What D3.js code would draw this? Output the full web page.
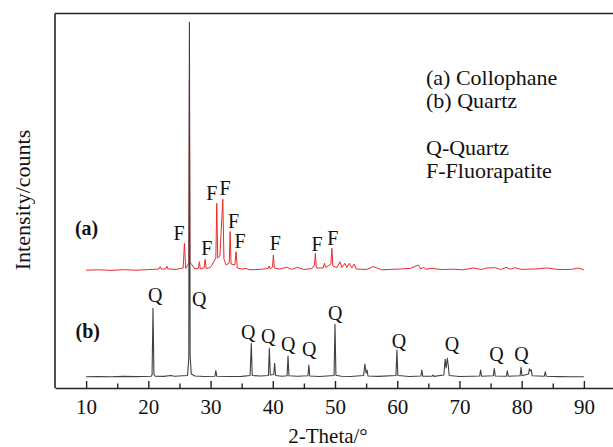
<!DOCTYPE html>
<html>
<head>
<meta charset="utf-8">
<script src="https://cdn.jsdelivr.net/npm/d3@7"></script>
<style>
  html, body { margin: 0; padding: 0; background: #fff; }
  svg { display: block; }
  text { font-family: "Liberation Serif", "Times New Roman", serif; fill: #111; }
</style>
</head>
<body>
<svg id="chart" width="613" height="447"></svg>
<script>
// ---------- data ----------
// (a) Collophane pattern (stacked, counts incl. offset)
const aTheta = [10, 12, 14, 16, 18, 20, 21.7, 21.9, 22.1, 22.8, 22.97, 23.15, 24.5, 25.6, 25.8, 26.0, 26.52, 26.6, 26.68, 27.5,
  28.05, 28.2, 28.35, 28.95, 29.13, 29.3, 30.0, 30.85, 31.0, 31.15, 31.5, 31.97, 32.15, 32.5, 33.0, 33.15, 33.3, 33.9, 34.1, 34.3,
  35.0, 35.7, 36.2, 38.0, 39.25, 39.4, 39.6, 39.95, 40.1, 40.25, 41.0, 42.25, 43.0, 43.97, 45.0, 46.3, 46.7, 46.85, 47.0, 48.1,
  48.3, 48.5, 49.35, 49.5, 49.65, 50.3, 50.8, 51.1, 51.6, 51.9, 52.3, 52.7, 53.1, 53.4, 55.0, 56.2, 57.5, 59.0, 60.5, 62.1,
  63.4, 63.8, 64.2, 64.6, 65.6, 67.0, 69.0, 70.5, 72.3, 73.5, 74.4, 75.8, 76.6, 77.5, 78.2, 78.86, 80.0, 82.0, 84.1, 86.0,
  88.0, 89.1, 90];
const aCounts = [1178, 1182, 1176, 1183, 1178, 1184, 1190, 1213, 1188, 1192, 1220, 1190, 1186, 1200, 1447, 1195, 1250, 3080, 1260, 1190,
  1195, 1263, 1192, 1200, 1287, 1195, 1205, 1300, 1847, 1300, 1320, 1887, 1290, 1230, 1250, 1563, 1240, 1230, 1363, 1200,
  1190, 1197, 1182, 1186, 1195, 1220, 1192, 1210, 1330, 1200, 1188, 1207, 1186, 1207, 1185, 1195, 1230, 1347, 1200, 1200,
  1247, 1205, 1240, 1397, 1220, 1205, 1263, 1205, 1247, 1205, 1247, 1200, 1240, 1190, 1185, 1213, 1182, 1186, 1190, 1196,
  1230, 1190, 1207, 1188, 1197, 1184, 1188, 1182, 1200, 1185, 1200, 1203, 1185, 1207, 1188, 1203, 1186, 1190, 1200, 1184,
  1186, 1200, 1182];

// (b) Quartz pattern (counts)
const bTheta = [10, 12, 14, 16, 18, 20.45, 20.6, 20.75, 20.9, 21.1, 22.5, 23.6, 24.2, 26.3, 26.5, 26.6, 26.72, 26.9, 27.5, 29,
  30.7, 30.85, 31.0, 33, 35, 36.35, 36.55, 36.7, 38, 39.3, 39.45, 39.6, 40.15, 40.3, 40.45, 41.5, 42.3, 42.45, 42.6, 44,
  45.65, 45.8, 45.95, 47.5, 49.85, 50.0, 50.15, 51, 52.5, 54.6, 54.8, 55.0, 55.15, 55.3, 57, 59.8, 59.95, 60.1, 62, 63.8,
  63.95, 64.1, 65.6, 65.75, 65.9, 67.5, 67.7, 67.85, 68.05, 68.2, 68.35, 70, 72, 73.25, 73.4, 73.55, 75.45, 75.6, 75.75, 77.55,
  77.7, 77.85, 79.75, 79.9, 80.05, 81.1, 81.25, 81.4, 81.55, 81.7, 83.65, 83.8, 83.95, 86, 88, 90];
const bCounts = [112, 115, 112, 116, 114, 118, 130, 797, 135, 118, 116, 125, 118, 125, 300, 3660, 320, 140, 120, 115,
  118, 173, 118, 115, 116, 125, 447, 125, 120, 125, 397, 130, 135, 247, 125, 118, 122, 320, 122, 117,
  122, 230, 120, 115, 125, 637, 128, 118, 115, 125, 240, 150, 180, 120, 116, 125, 380, 125, 115, 120,
  180, 118, 118, 130, 116, 130, 287, 200, 297, 230, 125, 115, 118, 120, 180, 118, 122, 197, 120, 118,
  173, 118, 122, 207, 122, 140, 193, 170, 182, 122, 118, 163, 118, 114, 112, 113];

// peak labels: F = fluorapatite on (a), Q = quartz on (b)
const fTheta  = [24.95, 29.4, 30.2, 32.35, 33.7, 34.75, 40.4, 47.1, 49.65];
const fCounts = [1480, 1330, 1880, 1930, 1597, 1397, 1380, 1373, 1430];
const qTheta  = [21.1, 28.17, 36.05, 39.26, 42.48, 45.85, 50.03, 60.27, 68.8, 75.97, 79.98];
const qCounts = [860, 820, 490, 450, 370, 320, 680, 400, 370, 270, 270];

const xTicksMajor = [10, 20, 30, 40, 50, 60, 70, 80, 90];
const xTicksMinor = [15, 25, 35, 45, 55, 65, 75, 85];
const xDomain = [5, 95];
const yDomain = [0, 3745];

const legendLines = ["(a) Collophane", "(b) Quartz", "", "Q-Quartz", "F-Fluorapatite"];
const seriesTags = ["(a)", "(b)"];
const seriesTagCounts = [1530, 500];
const seriesTagTheta = [8.2, 8.3];
const xTitle = "2-Theta/\u00B0";
const yTitle = "Intensity/counts";

// ---------- drawing ----------
const svg = d3.select("#chart");
const pL = 55, pR = 615, pT = 13.5, pB = 388;
const x = d3.scaleLinear().domain(xDomain).range([pL, pR]);
const y = d3.scaleLinear().domain(yDomain).range([pB, pT]);

const line = d3.line().x(d => x(d[0])).y(d => y(d[1]));
const aData = aTheta.map((t, i) => [t, aCounts[i]]);
const bData = bTheta.map((t, i) => [t, bCounts[i]]);

svg.append("path").datum(aData).attr("d", line)
  .attr("fill", "none").attr("stroke", "#ee2a2a").attr("stroke-width", 1).attr("stroke-linejoin", "round");
svg.append("path").datum(bData).attr("d", line)
  .attr("fill", "none").attr("stroke", "#404040").attr("stroke-width", 1.1).attr("stroke-linejoin", "round");

// frame
svg.append("line").attr("x1", pL).attr("x2", pR).attr("y1", pT).attr("y2", pT)
  .attr("stroke", "#222").attr("stroke-width", 1.6);
svg.append("line").attr("x1", pL).attr("x2", pL).attr("y1", pT).attr("y2", pB)
  .attr("stroke", "#222").attr("stroke-width", 1.6);

// x axis
const axMajor = d3.axisBottom(x).tickValues(xTicksMajor).tickSizeInner(-7).tickSizeOuter(0).tickPadding(11)
  .tickFormat(d3.format("d"));
const gx = svg.append("g").attr("transform", `translate(0,${pB})`).call(axMajor);
gx.select(".domain").attr("stroke", "#222").attr("stroke-width", 1.6);
gx.selectAll(".tick line").attr("stroke", "#222").attr("stroke-width", 1.4);
gx.selectAll("text").attr("font-size", 21).attr("font-family", "Liberation Serif, serif").attr("fill", "#111");

const axMinor = d3.axisBottom(x).tickValues(xTicksMinor).tickSizeInner(-4.5).tickSizeOuter(0).tickFormat("");
const gm = svg.append("g").attr("transform", `translate(0,${pB})`).call(axMinor);
gm.select(".domain").remove();
gm.selectAll(".tick line").attr("stroke", "#222").attr("stroke-width", 1.4);

// peak labels
svg.selectAll("text.f").data(fTheta).join("text").attr("class", "f")
  .attr("x", (d) => x(d)).attr("y", (d, i) => y(fCounts[i]))
  .attr("text-anchor", "middle").attr("font-size", 20).text("F");
svg.selectAll("text.q").data(qTheta).join("text").attr("class", "q")
  .attr("x", (d) => x(d)).attr("y", (d, i) => y(qCounts[i]))
  .attr("text-anchor", "middle").attr("font-size", 20).text("Q");

// series tags
svg.selectAll("text.tag").data(seriesTags).join("text").attr("class", "tag")
  .attr("x", (d, i) => x(seriesTagTheta[i])).attr("y", (d, i) => y(seriesTagCounts[i]))
  .attr("font-size", 20).attr("font-weight", "bold").text(d => d);

// legend block
svg.append("g").selectAll("text").data(legendLines).join("text")
  .attr("x", 426).attr("y", (d, i) => 85 + i * 23.3)
  .attr("font-size", 22).text(d => d);

// axis titles
svg.append("text").attr("x", 328).attr("y", 443).attr("text-anchor", "middle")
  .attr("font-size", 21).text(xTitle);
svg.append("text").attr("transform", "translate(30,200) rotate(-90)").attr("text-anchor", "middle")
  .attr("font-size", 22).text(yTitle);
</script>
</body>
</html>
